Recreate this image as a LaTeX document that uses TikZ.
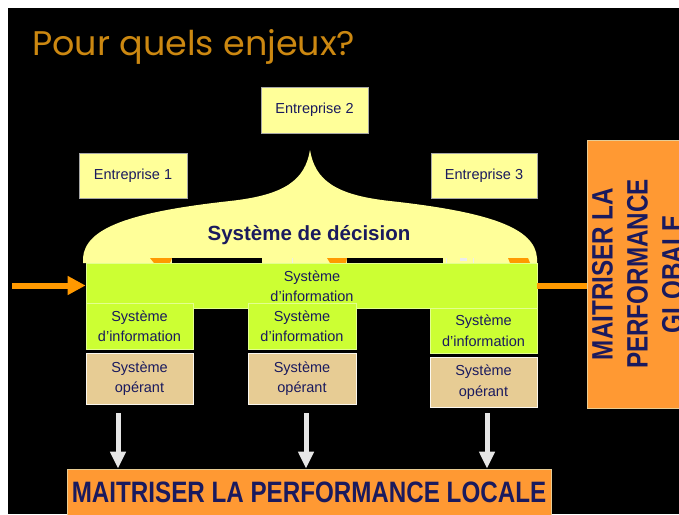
\documentclass[tikz,border=0pt]{standalone}
\usepackage{graphicx}
\usepackage{fontspec}
\setmainfont{Liberation Sans}
\newfontfamily\titlefont{Poppins}
\usetikzlibrary{arrows.meta}

\definecolor{titlegold}{RGB}{204,136,17}
\definecolor{paleyellow}{RGB}{255,255,153}
\definecolor{lime}{RGB}{204,255,51}
\definecolor{tan}{RGB}{231,204,148}
\definecolor{boxorange}{RGB}{255,153,51}
\definecolor{arroworange}{RGB}{255,153,0}
\definecolor{navy}{RGB}{26,26,94}
\definecolor{palegrey}{RGB}{230,230,230}

\begin{document}
\begin{tikzpicture}[x=1pt,y=-1pt,
  every node/.style={inner sep=0pt, text=navy},
  label font/.style={font=\fontsize{14.5}{20.5}\selectfont},
  firm/.style={draw=gray!70, line width=0.7pt, fill=paleyellow, label font},
  infobox/.style={draw=lime!55!white, line width=0.8pt, fill=lime, align=center, label font},
  opbox/.style={draw=white!85!tan, line width=0.8pt, fill=tan, align=center, label font},
  goalbox/.style={draw=tan, line width=0.8pt, fill=boxorange},
  goal font/.style={font=\fontsize{29.5}{35}\selectfont\bfseries},
  feed/.style={line width=6pt, arroworange},
  down/.style={line width=5pt, palegrey, -{Triangle[length=17pt,width=15pt]}},
]
\useasboundingbox (0,0) rectangle (679,514);
\clip (0,0) rectangle (679,514);
\fill[white] (0,0) rectangle (679,514);
\fill[black] (8,8) rectangle (679,514);

% heading
\node[anchor=base west, text=titlegold] (title) at (32,55)
  {\resizebox{323pt}{26pt}{\titlefont Pour quels enjeux?}};

% decision dome shared by the three firms
\fill[paleyellow] (83,263) -- (83,258)
  .. controls (85,228) and (130,212) .. (230,201)
  .. controls (285,195) and (305,180) .. (310,150)
  .. controls (315,180) and (335,195) .. (390,201)
  .. controls (490,212) and (535,228) .. (537,258) -- (537,263) -- cycle;
\node[anchor=base, font=\fontsize{20.5}{24}\selectfont\bfseries] (decision) at (309,240)
  {Système de décision};

% partly hidden figures under the dome
\begin{scope}[line width=1.2pt]
  \draw[arroworange] (93,264) arc (180:0:7.5);
  \draw[arroworange] (268,264) arc (180:0:8.5);
  \fill[arroworange] (150,258) -- (172,258) -- (170,263) -- (154,263) -- cycle;
  \fill[arroworange] (327,258) -- (347,258) -- (346,263) -- (330,263) -- cycle;
  \fill[arroworange] (508,258) -- (528,258) -- (530,263) -- (510,263) -- cycle;
  \fill[black] (172,258) rectangle (262,263);
  \fill[black] (347,258) rectangle (443,263);
  \fill[white!85!gray] (460,258) rectangle (467,261);
  \draw[white!85!gray, line width=0.6pt] (292,258) -- (292,263) (446,258) -- (446,263) (473,258) -- (473,263);
\end{scope}

% firms
\node[firm, minimum width=108pt, minimum height=45pt] (e1) at (133,175.5) {Entreprise 1};
\node[firm, minimum width=107pt, minimum height=46pt] (e2) at (314.5,110) {Entreprise 2};
\node[firm, minimum width=106pt, minimum height=45pt] (e3) at (484,175.5) {Entreprise 3};

% shared information system and the local ones
\node[infobox, minimum width=451pt, minimum height=45pt] (sishared) at (311.5,285.5) {};
\node[infobox, minimum width=107pt, minimum height=46pt] (si1) at (139.5,326) {Système\\d’information};
\node[infobox, minimum width=108pt, minimum height=46pt] (si2) at (302,326) {Système\\d’information};
\node[infobox, minimum width=107pt, minimum height=45pt] (si3) at (483.5,330.5) {Système\\d’information};
\node[align=center, label font] (sisharedtext) at (312,286) {Système\\d’information};

% operating systems
\node[opbox, minimum width=107pt, minimum height=51pt] (op1) at (139.5,378.5) {Système\\opérant};
\node[opbox, minimum width=108pt, minimum height=51pt] (op2) at (302,378.5) {Système\\opérant};
\node[opbox, minimum width=107pt, minimum height=50pt] (op3) at (483.5,382) {Système\\opérant};

% global goal
\node[goalbox, minimum width=113pt, minimum height=268pt] (global) at (643.5,274) {};
\node[goal font, rotate=90, align=center] (globaltext) at (637.5,274)
  {\scalebox{0.82}[1]{MAITRISER LA}\\\scalebox{0.82}[1]{PERFORMANCE}\\\scalebox{0.82}[1]{GLOBALE}};

% local goal
\node[goalbox, minimum width=484pt, minimum height=47pt] (local) at (309,492.5) {};
\node[goal font] (localtext) at (309,492.5)
  {\scalebox{0.82}[1]{MAITRISER LA PERFORMANCE LOCALE}};

% flows
\coordinate (inflow) at (12,285.5);
\draw[feed, -{Triangle[length=18pt,width=18pt]}] (inflow) -- (sishared.west);
\draw[feed] (sishared.east) -- (sishared.east -| global.west);

\coordinate (d1) at (118,413);
\coordinate (d2) at (306,413);
\coordinate (d3) at (487,413);
\draw[down] (d1) -- (d1 |- local.north);
\draw[down] (d2) -- (d2 |- local.north);
\draw[down] (d3) -- (d3 |- local.north);
\end{tikzpicture}
\end{document}
